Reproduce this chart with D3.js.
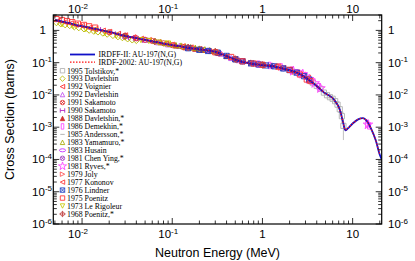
<!DOCTYPE html>
<html>
<head>
<meta charset="utf-8">
<script src="https://cdn.jsdelivr.net/npm/d3@7"></script>
<style>
  body { margin: 0; background: #fff; }
  svg { display: block; }
  .tl { font-family: "Liberation Sans", Arial, sans-serif; font-size: 11.5px; fill: #000; }
  .title { font-family: "Liberation Sans", Arial, sans-serif; font-size: 12.5px; fill: #000; }
  .leg { font-family: "Liberation Serif", "Times New Roman", serif; font-size: 7.8px; fill: #000; }
</style>
</head>
<body>
<svg id="chart" width="415" height="261"></svg>
<script>
// evaluated curves (MeV, barns)
const irdff2 = [[0.005,2.1],[0.007,1.7],[0.01,1.35],[0.015,1.07],[0.02,0.9],[0.03,0.68],[0.045,0.54],[0.06,0.46],[0.08,0.39],[0.1,0.35],[0.124,0.32],[0.15,0.29],[0.2,0.26],[0.288,0.224],[0.4,0.16],[0.5,0.125],[0.68,0.098],[0.85,0.088],[1.13,0.081],[1.5,0.072],[2.06,0.057],[2.5,0.047],[3.16,0.031],[4,0.019],[4.8,0.012],[6.2,0.0072],[7.2,0.0035],[7.8,0.0015],[8.3,0.0008],[8.8,0.0009],[10,0.0013],[11.5,0.00175],[13,0.0019],[14.5,0.0015],[16,0.0009],[18,0.0004],[20,0.00014],[21,0.0001]];
const irdf2002 = [[0.005,2.08],[0.007,1.69],[0.01,1.34],[0.015,1.06],[0.02,0.9],[0.03,0.68],[0.045,0.54],[0.06,0.46],[0.08,0.39],[0.1,0.35],[0.124,0.32],[0.15,0.29],[0.2,0.26],[0.288,0.222],[0.4,0.158],[0.5,0.124],[0.68,0.098],[0.85,0.089],[1.13,0.082],[1.5,0.072],[2.06,0.056],[2.5,0.046],[3.16,0.031],[4,0.019],[4.8,0.012],[6.2,0.0071],[7.2,0.0034],[7.8,0.0015],[8.3,0.00082],[8.8,0.00092],[10,0.0013],[11.5,0.00175],[13,0.0019],[14.5,0.0015],[16,0.0009],[18,0.0004],[20,0.00014]];

// experimental data (MeV, barns[, error])
const tolstikov1995 = [[3.3,0.028],[3.6,0.024],[4.0,0.019],[4.4,0.0155],[4.8,0.0118],[5.2,0.0098],[5.6,0.0085],[6.0,0.0076],[6.4,0.0064],[6.8,0.005],[7.2,0.0036,0.0008],[7.6,0.0022,0.0009],[7.9,0.0011,0.0007]];
const davletshin1993 = [[0.0052,1.75],[0.0058,1.62],[0.0065,1.5],[0.0073,1.42],[0.0082,1.3],[0.0092,1.22],[0.0105,1.12],[0.012,1.02],[0.0135,0.95],[0.015,0.9],[0.017,0.83],[0.019,0.77],[0.022,0.7],[0.025,0.64],[0.028,0.6],[0.032,0.55],[0.036,0.51],[0.04,0.49]];
const voignier1992 = [[0.5,0.13],[0.6,0.11],[0.7,0.1],[0.85,0.09],[1.0,0.085],[1.2,0.08],[1.4,0.077],[1.7,0.068],[2.0,0.06],[2.4,0.05],[2.8,0.042],[3.2,0.034]];
const davletshin1992 = [[0.03,0.67],[0.04,0.58],[0.05,0.52],[0.07,0.43],[0.09,0.37],[0.12,0.33],[0.15,0.295],[0.2,0.26],[0.25,0.24],[0.35,0.19],[0.45,0.14],[0.55,0.12]];
const sakamoto1991 = [[0.02,0.88],[0.03,0.69],[0.04,0.57],[0.05,0.51],[0.06,0.47],[0.08,0.4],[0.1,0.35],[0.13,0.31],[0.16,0.29],[0.2,0.26]];
const sakamoto1990 = [[0.015,1.05],[0.025,0.78],[0.035,0.6],[0.05,0.5]];
const davletshin1988 = [[0.11,0.34],[0.14,0.3],[0.18,0.27],[0.22,0.25],[0.27,0.23],[0.33,0.2],[0.4,0.16],[0.5,0.128]];
const demekhin1986 = [[0.9,0.09],[1.2,0.082],[1.6,0.074],[2.1,0.058],[2.6,0.046],[3.0,0.038],[3.5,0.027],[4.2,0.018],[14.5,0.0013],[15.2,0.0011]];
const andersson1985 = [[2.5,0.048],[3.0,0.036],[3.5,0.026],[4.2,0.017],[5.0,0.0115],[5.8,0.0083],[6.6,0.006],[7.4,0.0029]];
const yamamuro1983 = [[0.065,0.47],[0.075,0.43],[0.085,0.4],[0.095,0.38],[0.11,0.35],[0.125,0.34],[0.14,0.32],[0.16,0.3],[0.18,0.29],[0.2,0.275],[0.23,0.26],[0.26,0.245],[0.3,0.225]];
const husain1983 = [[0.15,0.29],[0.25,0.235],[0.5,0.125],[0.8,0.092]];
const chenying1981 = [[0.6,0.11],[0.8,0.094],[1.0,0.087],[1.3,0.079],[1.7,0.067]];
const ryves1981 = [[2.2,0.055],[2.8,0.044],[3.3,0.031],[3.8,0.023],[4.4,0.016],[14.8,0.0012]];
const joly1979 = [[0.35,0.19],[0.55,0.12],[0.75,0.097],[1.1,0.083],[1.6,0.07],[2.3,0.052]];
const kononov1977 = [[0.0055,2.0],[0.0065,1.8],[0.0075,1.65],[0.0085,1.5],[0.01,1.38],[0.012,1.2],[0.014,1.1],[0.017,0.98],[0.02,0.9],[0.025,0.78],[0.03,0.7],[0.037,0.61],[0.045,0.55],[0.055,0.5],[0.07,0.43],[0.085,0.39],[0.1,0.36],[0.13,0.32],[0.16,0.295],[0.2,0.265]];
const lindner1976 = [[0.15,0.28],[0.2,0.25],[0.25,0.23],[0.32,0.205],[0.4,0.162],[0.5,0.127],[0.6,0.11],[0.75,0.095],[0.9,0.088],[1.1,0.082],[1.35,0.077],[1.7,0.066],[2.0,0.059],[2.4,0.049],[2.9,0.038],[3.3,0.03]];
const poenitz1975 = [[0.0052,2.25],[0.006,2.1],[0.0068,1.95],[0.0078,1.8],[0.009,1.62],[0.0105,1.48],[0.012,1.34],[0.014,1.22],[0.3,0.21],[0.45,0.15],[0.6,0.11],[0.8,0.094],[1.0,0.086],[1.5,0.075],[2.0,0.06],[2.6,0.043],[3.1,0.03],[3.4,0.027]];
const lerigoleur1973 = [[0.006,1.55],[0.008,1.36],[0.011,1.1],[0.014,0.98],[0.018,0.82],[0.024,0.68],[0.03,0.6],[0.045,0.5],[0.055,0.47],[0.07,0.42],[0.09,0.39]];
const poenitz1968 = [[0.03,0.66],[0.064,0.45],[0.15,0.3],[0.3,0.22],[0.5,0.13],[1.0,0.085]];

const curveNames = ["IRDFF-II: AU-197(N,G)", "IRDF-2002: AU-197(N,G)"];
const seriesNames = ["1995 Tolstikov,*","1993 Davletshin","1992 Voignier","1992 Davletshin","1991 Sakamoto","1990 Sakamoto","1988 Davletshin,*","1986 Demekhin,*","1985 Andersson,*","1983 Yamamuro,*","1983 Husain","1981 Chen Ying,*","1981 Ryves,*","1979 Joly","1977 Kononov","1976 Lindner","1975 Poenitz","1973 Le Rigoleur","1968 Poenitz,*"];
const seriesData = [tolstikov1995,davletshin1993,voignier1992,davletshin1992,sakamoto1991,sakamoto1990,davletshin1988,demekhin1986,andersson1985,yamamuro1983,husain1983,chenying1981,ryves1981,joly1979,kononov1977,lindner1976,poenitz1975,lerigoleur1973,poenitz1968];
const xTickValues = [0.01, 0.1, 1, 10];
const yTickValues = [1e-6, 1e-5, 1e-4, 1e-3, 1e-2, 1e-1, 1];

// marker styles, same order as seriesNames
const styles = [
  {c:"#b0b0b0", s:"square"}, {c:"#b8b800", s:"diamond"}, {c:"#ff2020", s:"triL"},
  {c:"#c050f0", s:"tri"}, {c:"#e03030", s:"xcircle"}, {c:"#b020c0", s:"H"},
  {c:"#d03030", s:"triF"}, {c:"#ff40ff", s:"rect"}, {c:"#a8a8a8", s:"dash"},
  {c:"#a8a800", s:"tri"}, {c:"#c020ff", s:"ellipse"}, {c:"#a040c0", s:"xcircle"},
  {c:"#ff40ff", s:"star"}, {c:"#ff5050", s:"triR"}, {c:"#ff3030", s:"triL"},
  {c:"#2040c0", s:"xsquare"}, {c:"#ff3030", s:"square"}, {c:"#c8c800", s:"triD"},
  {c:"#c04040", s:"xdiamond"}
];

const svg = d3.select("#chart");
const plotL = 53.3, plotR = 381.7, plotT = 15, plotB = 224;

const x = d3.scaleLog().domain([0.0048, 21]).range([plotL, plotR]);
const y = d3.scaleLog().domain([1e-6, 3]).range([plotB, plotT]);

function markerPath(s) {
  const r = 2.6;
  switch (s) {
    case "square": return `M${-r},${-r}H${r}V${r}H${-r}Z`;
    case "diamond": return `M0,${-r-0.6}L${r+0.6},0L0,${r+0.6}L${-r-0.6},0Z`;
    case "tri": return `M0,${-r}L${r},${r}L${-r},${r}Z`;
    case "triF": return `M0,${-r}L${r},${r}L${-r},${r}Z`;
    case "triD": return `M${-r},${-r}L${r},${-r}L0,${r}Z`;
    case "triL": return `M${-r},0L${r},${-r}L${r},${r}Z`;
    case "triR": return `M${r},0L${-r},${-r}L${-r},${r}Z`;
    case "xcircle": return `M${r},0A${r},${r} 0 1,1 ${-r},0A${r},${r} 0 1,1 ${r},0M${-r*0.7},${-r*0.7}L${r*0.7},${r*0.7}M${r*0.7},${-r*0.7}L${-r*0.7},${r*0.7}`;
    case "H": return `M${-r},${-r}V${r}M${r},${-r}V${r}M${-r},0H${r}`;
    case "rect": return `M-1.5,${-r-0.6}H1.5V${r+0.6}H-1.5Z`;
    case "dash": return `M${-r},0H${r}`;
    case "ellipse": return `M${r+1},0A${r+1},${r-0.8} 0 1,1 ${-r-1},0A${r+1},${r-0.8} 0 1,1 ${r+1},0`;
    case "star": return d3.symbol(d3.symbolStar, 28)();
    case "xsquare": return `M${-r},${-r}H${r}V${r}H${-r}ZM${-r},${-r}L${r},${r}M${r},${-r}L${-r},${r}`;
    case "xdiamond": return `M0,${-r-0.6}L${r+0.6},0L0,${r+0.6}L${-r-0.6},0ZM0,${-r-0.6}V${r+0.6}M${-r-0.6},0H${r+0.6}`;
  }
}

svg.append("defs").append("clipPath").attr("id", "clip")
  .append("rect").attr("x", plotL).attr("y", plotT).attr("width", plotR - plotL).attr("height", plotB - plotT);

// data points
const pts = svg.append("g").attr("clip-path", "url(#clip)");
seriesData.forEach((data, i) => {
  const st = styles[i];
  const g = pts.append("g");
  g.selectAll("line.err").data(data.filter(d => d[2])).enter().append("line")
    .attr("x1", d => x(d[0])).attr("x2", d => x(d[0]))
    .attr("y1", d => y(d[1] + d[2])).attr("y2", d => y(Math.max(d[1] - d[2], 1e-7)))
    .attr("stroke", st.c).attr("stroke-width", 0.8);
  g.selectAll("path").data(data).enter().append("path")
    .attr("transform", d => `translate(${x(d[0])},${y(d[1])})`)
    .attr("d", markerPath(st.s))
    .attr("fill", st.s === "triF" ? st.c : "none")
    .attr("stroke", st.c).attr("stroke-width", 0.9);
});

// curves
const line = d3.line().x(d => x(d[0])).y(d => y(d[1])).curve(d3.curveMonotoneX);
const curves = svg.append("g").attr("clip-path", "url(#clip)");
curves.append("path").datum(irdff2).attr("d", line)
  .attr("fill", "none").attr("stroke", "#1010c8").attr("stroke-width", 1.8);
curves.append("path").datum(irdf2002).attr("d", line)
  .attr("fill", "none").attr("stroke", "#ff1010").attr("stroke-width", 1.1).attr("stroke-dasharray", "1.5,1.5");

// frame + ticks
svg.append("rect").attr("x", plotL).attr("y", plotT).attr("width", plotR - plotL).attr("height", plotB - plotT)
  .attr("fill", "none").attr("stroke", "#000").attr("stroke-width", 1.2);

function minorTicks(scale) {
  const [a, b] = scale.domain();
  const out = [];
  for (let e = Math.floor(Math.log10(a)); e <= Math.ceil(Math.log10(b)); e++) {
    for (let k = 1; k < 10; k++) {
      const v = k * Math.pow(10, e);
      if (v >= a && v <= b) out.push({ v, major: k === 1 });
    }
  }
  return out;
}

const tk = svg.append("g").attr("stroke", "#000").attr("stroke-width", 0.8);
minorTicks(x).forEach(t => {
  const len = t.major ? 6 : 3.5;
  const px = x(t.v);
  tk.append("line").attr("x1", px).attr("x2", px).attr("y1", plotB).attr("y2", plotB - len);
  tk.append("line").attr("x1", px).attr("x2", px).attr("y1", plotT).attr("y2", plotT + len);
});
minorTicks(y).forEach(t => {
  const len = t.major ? 6 : 3.5;
  const py = y(t.v);
  tk.append("line").attr("x1", plotL).attr("x2", plotL + len).attr("y1", py).attr("y2", py);
  tk.append("line").attr("x1", plotR).attr("x2", plotR - len).attr("y1", py).attr("y2", py);
});

function addLabel(el, v) {
  const e = Math.round(Math.log10(v));
  if (e === 0) { el.text("1"); return; }
  if (e === 1) { el.text("10"); return; }
  el.append("tspan").text("10");
  el.append("tspan").attr("dy", -4.5).attr("font-size", "8px").text("-" + Math.abs(e));
}

xTickValues.forEach(v => {
  const shift = v < 1 ? -4 : 0;
  addLabel(svg.append("text").attr("class", "tl").attr("text-anchor", "middle")
    .attr("x", x(v) + shift).attr("y", 13), v);
  addLabel(svg.append("text").attr("class", "tl").attr("text-anchor", "middle")
    .attr("x", x(v) + shift).attr("y", 238), v);
});
yTickValues.forEach(v => {
  addLabel(svg.append("text").attr("class", "tl").attr("text-anchor", "end")
    .attr("x", v === 1 ? 46 : 52).attr("y", y(v) + 4), v);
  addLabel(svg.append("text").attr("class", "tl").attr("text-anchor", "start")
    .attr("x", 388).attr("y", y(v) + 4), v);
});

svg.append("text").attr("class", "title").attr("text-anchor", "middle")
  .attr("x", (plotL + plotR) / 2).attr("y", 257).text("Neutron Energy (MeV)");
svg.append("text").attr("class", "title").attr("text-anchor", "middle")
  .attr("transform", `translate(14,${(plotT + plotB) / 2}) rotate(-90)`).text("Cross Section (barns)");

// legend
const leg = svg.append("g");
const curveStyles = [{ c: "#1010c8", w: 1.8, dash: null }, { c: "#ff1010", w: 1.3, dash: "1.5,1.5" }];
curveNames.forEach((n, i) => {
  const ly = 54.5 + i * 7.6;
  leg.append("line").attr("x1", 70).attr("x2", 95).attr("y1", ly).attr("y2", ly)
    .attr("stroke", curveStyles[i].c).attr("stroke-width", curveStyles[i].w)
    .attr("stroke-dasharray", curveStyles[i].dash);
  leg.append("text").attr("class", "leg").attr("x", 98.5).attr("y", ly + 2.8).text(n);
});
seriesNames.forEach((n, i) => {
  const ly = 70.7 + i * 7.96;
  const st = styles[i];
  leg.append("path").attr("transform", `translate(62.5,${ly}) scale(0.85)`)
    .attr("d", markerPath(st.s))
    .attr("fill", st.s === "triF" ? st.c : "none")
    .attr("stroke", st.c).attr("stroke-width", 1);
  leg.append("text").attr("class", "leg").attr("x", 67).attr("y", ly + 2.8).text(n);
});
</script>
</body>
</html>
